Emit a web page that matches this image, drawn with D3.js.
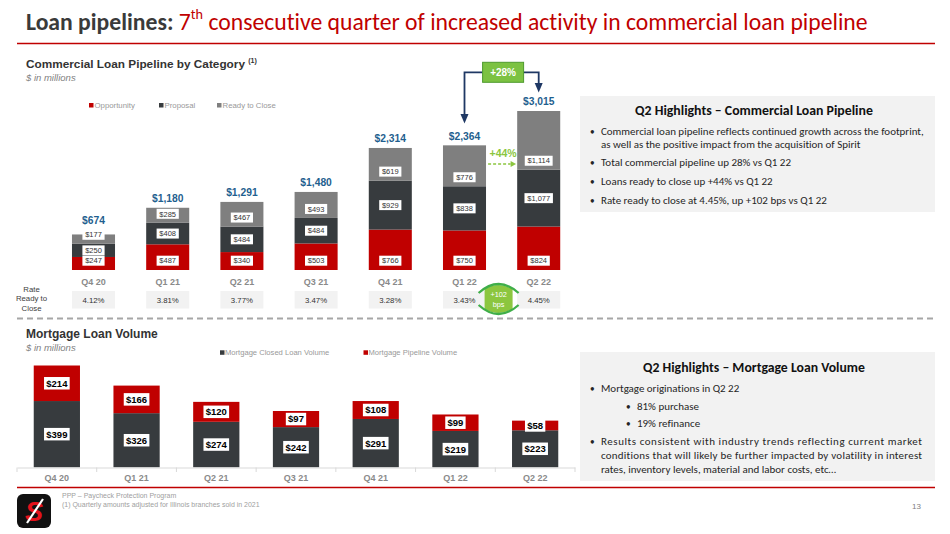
<!DOCTYPE html>
<html><head><meta charset="utf-8">
<script src="https://cdn.jsdelivr.net/npm/d3@7/dist/d3.min.js"></script>
<style>body{margin:0;background:#fff}svg{display:block}text{font-variant-ligatures:none}</style>
</head><body>
<svg id="c" width="950" height="534"></svg>
<script>
// ---------- DATA ----------
const quarters = ["Q4 20","Q1 21","Q2 21","Q3 21","Q4 21","Q1 22","Q2 22"];
const seriesNames = ["Opportunity","Proposal","Ready to Close"];
const opportunity = [247,487,340,503,766,750,824];
const proposal = [250,408,484,484,929,838,1077];
const readyToClose = [177,285,467,493,619,776,1114];
const pipelineTotals = [674,1180,1291,1480,2314,2364,3015];
const rateReadyToClose = ["4.12%","3.81%","3.77%","3.47%","3.28%","3.43%","4.45%"];
const mortgageSeries = ["Mortgage Closed Loan Volume","Mortgage Pipeline Volume"];
const mortgageClosed = [399,326,274,242,291,219,223];
const mortgagePipeline = [214,166,120,97,108,99,58];
const commercialHighlights = [
  ["Commercial loan pipeline reflects continued growth across the footprint,","as well as the positive impact from the acquisition of Spirit"],
  ["Total commercial pipeline up 28% vs Q1 22"],
  ["Loans ready to close up +44% vs Q1 22"],
  ["Rate ready to close at 4.45%, up +102 bps vs Q1 22"]
];

// ---------- STYLE ----------
const RED = "#c00000", DARK = "#373b3e", GRAY = "#7f7f7f", BLUE = "#1f5f8f", GREEN = "#8cc63f", NAVY = "#1f3864";
const SANS = "'Liberation Sans', Arial, Helvetica, sans-serif";
const CAL = "Carlito, Lato, 'Open Sans', sans-serif";
const svg = d3.select("#c");

function fitWidth(sel, w) {
  const fs = parseFloat(sel.attr("font-size"));
  const L = sel.node().getComputedTextLength();
  sel.attr("font-size", fs * w / L);
  return fs * w / L;
}

// ---------- TITLE ----------
const title = svg.append("text").attr("x", 26).attr("y", 30)
  .attr("font-family", CAL).attr("font-size", 22);
title.append("tspan").attr("font-weight", "bold").attr("fill", "#3a3a3a").text("Loan pipelines: ");
title.append("tspan").attr("fill", RED).text("7");
title.append("tspan").attr("fill", RED).attr("font-size", "0.6em").attr("dy", "-0.75em").text("th");
title.append("tspan").attr("fill", RED).attr("dy", "0.45em").text(" consecutive quarter of increased activity in commercial loan pipeline");
fitWidth(title, 842);
svg.append("line").attr("x1", 17).attr("x2", 935).attr("y1", 43.5).attr("y2", 43.5)
  .attr("stroke", RED).attr("stroke-width", 1.6);

// ---------- TOP CHART ----------
const sub1 = svg.append("text").attr("x", 26).attr("y", 67.5).attr("font-family", SANS)
  .attr("font-size", 12).attr("font-weight", "bold").attr("fill", "#333");
sub1.append("tspan").text("Commercial Loan Pipeline by Category ");
sub1.append("tspan").attr("font-size", "0.6em").attr("dy", "-0.7em").text("(1)");
fitWidth(sub1, 231);
svg.append("text").attr("x", 26).attr("y", 80.5).attr("font-family", SANS).attr("font-size", 9.5)
  .attr("font-style", "italic").attr("fill", GRAY).text("$ in millions");

const topColors = d3.scaleOrdinal().domain(seriesNames).range([RED, DARK, GRAY]);
const topLegendX = [89, 159, 217];
seriesNames.forEach((s, i) => {
  svg.append("rect").attr("x", topLegendX[i]).attr("y", 103).attr("width", 4.5).attr("height", 4.5).attr("fill", topColors(s));
  svg.append("text").attr("x", topLegendX[i] + 5.5).attr("y", 108).attr("font-family", SANS)
    .attr("font-size", 7.8).attr("fill", "#999").text(s);
});

const xT = d3.scaleBand().domain(quarters).range([56.4, 575.8]).paddingInner(0.42).paddingOuter(0.21);
const yT = d3.scaleLinear().domain([0, d3.max(pipelineTotals)]).range([270, 111]);
const bwT = xT.bandwidth();

const stackRows = quarters.map((q, i) => ({ q, "Opportunity": opportunity[i], "Proposal": proposal[i], "Ready to Close": readyToClose[i] }));
const layers = d3.stack().keys(seriesNames)(stackRows);

const gTop = svg.append("g");
layers.forEach(layer => {
  gTop.selectAll(null).data(layer).enter().append("rect")
    .attr("x", d => xT(d.data.q)).attr("width", bwT)
    .attr("y", d => yT(d[1])).attr("height", d => yT(d[0]) - yT(d[1]))
    .attr("fill", topColors(layer.key));
});

function labelCenter(key, d) {
  if (key === "Opportunity") return yT(0) - 9.3;
  if (key === "Proposal") return (yT(d[0]) + yT(d[1])) / 2;
  return yT(d[0]) - 9;
}
const rtcCenters = [];
layers.forEach(layer => {
  layer.forEach((d, i) => {
    const cx = xT(d.data.q) + bwT / 2, cy = labelCenter(layer.key, d);
    if (layer.key === "Ready to Close") rtcCenters[i] = cy;
    const g = gTop.append("g");
    const t = g.append("text").attr("x", cx).attr("y", cy + 2.7).attr("text-anchor", "middle")
      .attr("font-family", SANS).attr("font-size", 7.5).attr("fill", "#333")
      .text("$" + d3.format(",")(d.data[layer.key]));
    const w = t.node().getComputedTextLength() + 5.5;
    g.insert("rect", "text").attr("x", cx - w / 2).attr("y", cy - 5).attr("width", w).attr("height", 10).attr("fill", "#fff");
  });
});

quarters.forEach((q, i) => {
  const cy = Math.min(yT(pipelineTotals[i]) - 9.5, rtcCenters[i] - 5 - 9);
  svg.append("text").attr("x", xT(q) + bwT / 2).attr("y", cy + 3.7).attr("text-anchor", "middle")
    .attr("font-family", SANS).attr("font-size", 10.3).attr("font-weight", "bold").attr("fill", BLUE)
    .text("$" + d3.format(",")(pipelineTotals[i]));
});

const axT = svg.append("g").attr("transform", "translate(0,270)")
  .call(d3.axisBottom(xT).tickSize(0).tickPadding(0));
axT.select(".domain").remove();
axT.selectAll("text").attr("y", 14.5).attr("dy", 0).attr("font-family", SANS).attr("font-size", 9)
  .attr("font-weight", "bold").attr("fill", "#8a8a8a");

// Rate row
["Rate", "Ready to", "Close"].forEach((s, i) => {
  svg.append("text").attr("x", 31.5).attr("y", 292 + i * 9.4).attr("text-anchor", "middle")
    .attr("font-family", SANS).attr("font-size", 7.8).attr("fill", "#404040").text(s);
});
quarters.forEach((q, i) => {
  svg.append("rect").attr("x", xT(q)).attr("y", 291).attr("width", bwT).attr("height", 17.5).attr("fill", "#f2f2f2");
  svg.append("text").attr("x", xT(q) + bwT / 2).attr("y", 302.6).attr("text-anchor", "middle")
    .attr("font-family", SANS).attr("font-size", 7.8).attr("fill", "#333").text(rateReadyToClose[i]);
});

// annotations
const c5 = xT(quarters[5]) + bwT / 2, c6 = xT(quarters[6]) + bwT / 2, mid = (c5 + c6) / 2;
// +102 bps badge
const bx = mid - 3;
svg.append("path").attr("d", `M${bx-14},289 Q${bx},281 ${bx+14},289 L${bx+14},309 Q${bx},317 ${bx-14},309 Z`).attr("fill", GREEN);
svg.append("path").attr("d", `M${bx-20},293 Q${bx},275 ${bx+20},293`).attr("fill", "none").attr("stroke", "#3fae49").attr("stroke-width", 2.2);
svg.append("path").attr("d", `M${bx-20},305 Q${bx},323 ${bx+20},305`).attr("fill", "none").attr("stroke", "#3fae49").attr("stroke-width", 2.2);
svg.append("text").attr("x", bx).attr("y", 296.5).attr("text-anchor", "middle").attr("font-family", SANS)
  .attr("font-size", 7.3).attr("fill", "#fff").text("+102");
svg.append("text").attr("x", bx).attr("y", 306.5).attr("text-anchor", "middle").attr("font-family", SANS)
  .attr("font-size", 7.3).attr("fill", "#fff").text("bps");

// +28% bracket arrows
const boxW = 41, boxL = mid - boxW / 2 + 1.5;
svg.append("path").attr("d", `M${boxL},72.3 H${c5} V115`).attr("fill", "none").attr("stroke", NAVY).attr("stroke-width", 1.8);
svg.append("path").attr("d", `M${c5-4},114 L${c5+4},114 L${c5},123.5 Z`).attr("fill", NAVY);
svg.append("path").attr("d", `M${boxL+boxW},72.3 H${c6} V84`).attr("fill", "none").attr("stroke", NAVY).attr("stroke-width", 1.8);
svg.append("path").attr("d", `M${c6-4},83 L${c6+4},83 L${c6},92.5 Z`).attr("fill", NAVY);
svg.append("rect").attr("x", boxL).attr("y", 62.3).attr("width", boxW).attr("height", 20)
  .attr("fill", "#7cc242").attr("stroke", "#4e9a2e").attr("stroke-width", 1);
svg.append("text").attr("x", boxL + boxW / 2).attr("y", 76).attr("text-anchor", "middle").attr("font-family", SANS)
  .attr("font-size", 10).attr("font-weight", "bold").attr("fill", "#fff").text("+28%");
// +44%
svg.append("text").attr("x", mid + 1.5).attr("y", 156.5).attr("text-anchor", "middle").attr("font-family", SANS)
  .attr("font-size", 10.5).attr("font-weight", "bold").attr("fill", GREEN).text("+44%");
svg.append("line").attr("x1", mid - 13.5).attr("x2", mid + 9).attr("y1", 164).attr("y2", 164)
  .attr("stroke", GREEN).attr("stroke-width", 1.3).attr("stroke-dasharray", "3,2");
svg.append("path").attr("d", `M${mid+9},161 L${mid+14.5},164 L${mid+9},167 Z`).attr("fill", GREEN);

// dashed separator
svg.append("line").attr("x1", 17).attr("x2", 935).attr("y1", 318.5).attr("y2", 318.5)
  .attr("stroke", "#a6a6a6").attr("stroke-width", 1.8).attr("stroke-dasharray", "6,4");

// ---------- BOTTOM CHART ----------
svg.append("text").attr("x", 26).attr("y", 338).attr("font-family", SANS).attr("font-size", 12)
  .attr("font-weight", "bold").attr("fill", "#333").text("Mortgage Loan Volume");
svg.append("text").attr("x", 26).attr("y", 350.5).attr("font-family", SANS).attr("font-size", 9.5)
  .attr("font-style", "italic").attr("fill", GRAY).text("$ in millions");

const mColors = d3.scaleOrdinal().domain(mortgageSeries).range([DARK, RED]);
const mLegendX = [220, 363.5];
mortgageSeries.forEach((s, i) => {
  svg.append("rect").attr("x", mLegendX[i]).attr("y", 350.3).attr("width", 4.5).attr("height", 4.5).attr("fill", mColors(s));
  svg.append("text").attr("x", mLegendX[i] + 5).attr("y", 355.3).attr("font-family", SANS)
    .attr("font-size", 7.6).attr("fill", "#999").text(s);
});

const xB = d3.scaleBand().domain(quarters).range([17, 575]).paddingInner(0.42).paddingOuter(0.21);
const totalsB = quarters.map((q, i) => mortgageClosed[i] + mortgagePipeline[i]);
const yB = d3.scaleLinear().domain([0, d3.max(totalsB)]).range([467.3, 365.5]);
const bwB = xB.bandwidth();
const mRows = quarters.map((q, i) => ({ q, [mortgageSeries[0]]: mortgageClosed[i], [mortgageSeries[1]]: mortgagePipeline[i] }));
const mLayers = d3.stack().keys(mortgageSeries)(mRows);
mLayers.forEach(layer => {
  svg.selectAll(null).data(layer).enter().append("rect")
    .attr("x", d => xB(d.data.q)).attr("width", bwB)
    .attr("y", d => yB(d[1])).attr("height", d => yB(d[0]) - yB(d[1]))
    .attr("fill", mColors(layer.key));
});
mLayers.forEach(layer => {
  layer.forEach(d => {
    const cx = xB(d.data.q) + bwB / 2, cy = (yB(d[0]) + yB(d[1])) / 2;
    const g = svg.append("g");
    const t = g.append("text").attr("x", cx).attr("y", cy + 3.4).attr("text-anchor", "middle")
      .attr("font-family", SANS).attr("font-size", 9.5).attr("font-weight", "bold").attr("fill", "#000")
      .text("$" + d.data[layer.key]);
    const w = t.node().getComputedTextLength() + 4.5;
    g.insert("rect", "text").attr("x", cx - w / 2).attr("y", cy - 6.25).attr("width", w).attr("height", 12.5).attr("fill", "#fff");
  });
});
const axB = svg.append("g").attr("transform", "translate(0,467.5)")
  .call(d3.axisBottom(xB).tickSize(0).tickSizeOuter(0));
axB.select(".domain").attr("stroke", "#d9d9d9").attr("stroke-width", 1);
axB.selectAll("text").attr("y", 13.8).attr("dy", 0).attr("font-family", SANS).attr("font-size", 9)
  .attr("font-weight", "bold").attr("fill", "#8a8a8a");
d3.range(quarters.length + 1).forEach(i => {
  const tx = xB.range()[0] + i * xB.step();
  svg.append("line").attr("x1", tx).attr("x2", tx).attr("y1", 467.5).attr("y2", 472).attr("stroke", "#d9d9d9");
});

svg.append("line").attr("x1", 17).attr("x2", 935).attr("y1", 487.5).attr("y2", 487.5)
  .attr("stroke", RED).attr("stroke-width", 1.6);

// ---------- RIGHT PANELS ----------
svg.append("rect").attr("x", 580).attr("y", 96).attr("width", 355).attr("height", 116).attr("fill", "#f2f2f2");
svg.append("rect").attr("x", 580).attr("y", 352).attr("width", 355).attr("height", 129).attr("fill", "#f2f2f2");

const t1 = svg.append("text").attr("x", 754).attr("y", 115).attr("text-anchor", "middle").attr("font-family", CAL)
  .attr("font-size", 12.5).attr("font-weight", "bold").attr("fill", "#111").text("Q2 Highlights \u2013 Commercial Loan Pipeline");
fitWidth(t1, 238);
const t2 = svg.append("text").attr("x", 754).attr("y", 372).attr("text-anchor", "middle").attr("font-family", CAL)
  .attr("font-size", 12.5).attr("font-weight", "bold").attr("fill", "#111").text("Q2 Highlights \u2013 Mortgage Loan Volume");
fitWidth(t2, 222);

const probe = svg.append("text").attr("font-family", CAL).attr("font-size", 10).text(commercialHighlights[0][0]);
const bodySize = fitWidth(probe, 323);
probe.remove();

function bodyLine(x, y, s, len) {
  const t = svg.append("text").attr("x", x).attr("y", y).attr("font-family", CAL)
    .attr("font-size", bodySize).attr("fill", "#262626").text(s);
  if (len) t.attr("textLength", len).attr("lengthAdjust", "spacing");
  return t;
}
function bullet(x, y) {
  svg.append("text").attr("x", x).attr("y", y).attr("font-family", CAL).attr("font-size", bodySize * 0.85)
    .attr("fill", "#262626").text("\u2022");
}
const topYs = [[134.5, 147.5], [166], [185], [203.5]];
commercialHighlights.forEach((lines, i) => {
  bullet(590, topYs[i][0]);
  lines.forEach((s, j) => bodyLine(601, topYs[i][j], s));
});

bullet(590, 391.5); bodyLine(601, 391.5, "Mortgage originations in Q2 22");
bullet(626, 409.5); bodyLine(637, 409.5, "81% purchase");
bullet(626, 426.5); bodyLine(637, 426.5, "19% refinance");
bullet(590, 444.5);
bodyLine(601, 444.5, "Results consistent with industry trends reflecting current market", 321);
bodyLine(601, 458.5, "conditions that will likely be further impacted by volatility in interest", 321);
bodyLine(601, 473, "rates, inventory levels, material and labor costs, etc\u2026");

// ---------- FOOTER ----------
svg.append("text").attr("x", 62).attr("y", 497.5).attr("font-family", SANS).attr("font-size", 7)
  .attr("fill", "#a0a0a0").text("PPP \u2013 Paycheck Protection Program");
const f2 = svg.append("text").attr("x", 62).attr("y", 506.5).attr("font-family", SANS).attr("font-size", 7)
  .attr("fill", "#a0a0a0").text("(1)  Quarterly amounts adjusted for Illinois branches sold in 2021");
fitWidth(f2, 198);
svg.append("text").attr("x", 921).attr("y", 509).attr("text-anchor", "end").attr("font-family", SANS)
  .attr("font-size", 8).attr("fill", "#808080").text("13");

// logo
svg.append("rect").attr("x", 17).attr("y", 494).attr("width", 34).attr("height", 34).attr("rx", 6).attr("fill", "#111");
svg.append("text").attr("x", 34).attr("y", 521).attr("text-anchor", "middle").attr("font-family", SANS)
  .attr("font-size", 27).attr("font-weight", "bold").attr("font-style", "italic").attr("fill", "#e4121b").text("S");
svg.append("line").attr("x1", 27).attr("x2", 43).attr("y1", 523).attr("y2", 499).attr("stroke", "#fff").attr("stroke-width", 2.2);
</script>
</body></html>
